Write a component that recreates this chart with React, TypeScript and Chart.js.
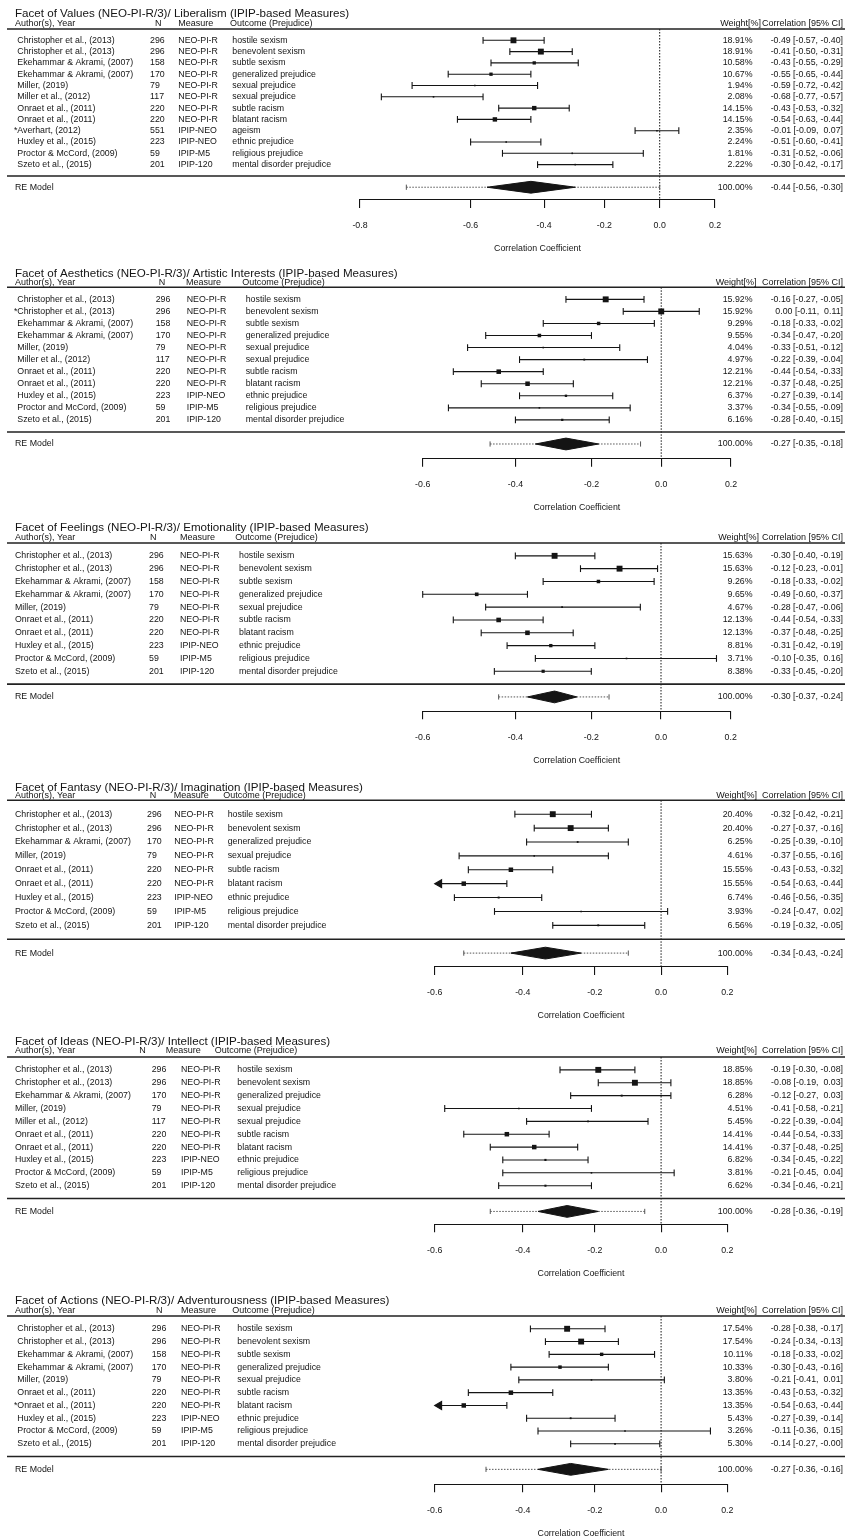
import React, { useEffect, useRef } from "react";
import { Chart, registerables } from "chart.js";

Chart.register(...registerables);

const FONT = '"Liberation Sans", Arial, Helvetica, sans-serif';
const INK = "#141414";

// ---------- tick labels ----------
const ticksWide = ["-0.8", "-0.6", "-0.4", "-0.2", "0.0", "0.2"];
const ticksNarrow = ["-0.6", "-0.4", "-0.2", "0.0", "0.2"];

// ---------- Panel 1 ----------
const p1Title = "Facet of Values (NEO-PI-R/3)/ Liberalism (IPIP-based Measures)";
const p1Authors = ["Christopher et al., (2013)", "Christopher et al., (2013)", "Ekehammar & Akrami, (2007)", "Ekehammar & Akrami, (2007)", "Miller, (2019)", "Miller et al., (2012)", "Onraet et al., (2011)", "Onraet et al., (2011)", "*Averhart, (2012)", "Huxley et al., (2015)", "Proctor & McCord, (2009)", "Szeto et al., (2015)"];
const p1N = [296, 296, 158, 170, 79, 117, 220, 220, 551, 223, 59, 201];
const p1Measure = ["NEO-PI-R", "NEO-PI-R", "NEO-PI-R", "NEO-PI-R", "NEO-PI-R", "NEO-PI-R", "NEO-PI-R", "NEO-PI-R", "IPIP-NEO", "IPIP-NEO", "IPIP-M5", "IPIP-120"];
const p1Outcome = ["hostile sexism", "benevolent sexism", "subtle sexism", "generalized prejudice", "sexual prejudice", "sexual prejudice", "subtle racism", "blatant racism", "ageism", "ethnic prejudice", "religious prejudice", "mental disorder prejudice"];
const p1Weight = [18.91, 18.91, 10.58, 10.67, 1.94, 2.08, 14.15, 14.15, 2.35, 2.24, 1.81, 2.22];
const p1Est = [-0.49, -0.41, -0.43, -0.55, -0.59, -0.68, -0.43, -0.54, -0.01, -0.51, -0.31, -0.30];
const p1Lower = [-0.57, -0.50, -0.55, -0.65, -0.72, -0.77, -0.53, -0.63, -0.09, -0.60, -0.52, -0.42];
const p1Upper = [-0.40, -0.31, -0.29, -0.44, -0.42, -0.57, -0.32, -0.44, 0.07, -0.41, -0.06, -0.17];
const p1Summary = [-0.44, -0.56, -0.30];
const p1Pred = [-0.73, 0.0];

// ---------- Panel 2 ----------
const p2Title = "Facet of Aesthetics (NEO-PI-R/3)/ Artistic Interests (IPIP-based Measures)";
const p2Authors = ["Christopher et al., (2013)", "*Christopher et al., (2013)", "Ekehammar & Akrami, (2007)", "Ekehammar & Akrami, (2007)", "Miller, (2019)", "Miller et al., (2012)", "Onraet et al., (2011)", "Onraet et al., (2011)", "Huxley et al., (2015)", "Proctor and McCord, (2009)", "Szeto et al., (2015)"];
const p2N = [296, 296, 158, 170, 79, 117, 220, 220, 223, 59, 201];
const p2Measure = ["NEO-PI-R", "NEO-PI-R", "NEO-PI-R", "NEO-PI-R", "NEO-PI-R", "NEO-PI-R", "NEO-PI-R", "NEO-PI-R", "IPIP-NEO", "IPIP-M5", "IPIP-120"];
const p2Outcome = ["hostile sexism", "benevolent sexism", "subtle sexism", "generalized prejudice", "sexual prejudice", "sexual prejudice", "subtle racism", "blatant racism", "ethnic prejudice", "religious prejudice", "mental disorder prejudice"];
const p2Weight = [15.92, 15.92, 9.29, 9.55, 4.04, 4.97, 12.21, 12.21, 6.37, 3.37, 6.16];
const p2Est = [-0.16, 0.0, -0.18, -0.34, -0.33, -0.22, -0.44, -0.37, -0.27, -0.34, -0.28];
const p2Lower = [-0.27, -0.11, -0.33, -0.47, -0.51, -0.39, -0.54, -0.48, -0.39, -0.55, -0.40];
const p2Upper = [-0.05, 0.11, -0.02, -0.20, -0.12, -0.04, -0.33, -0.25, -0.14, -0.09, -0.15];
const p2Summary = [-0.27, -0.35, -0.18];
const p2Pred = [-0.46, -0.06];

// ---------- Panel 3 ----------
const p3Title = "Facet of Feelings (NEO-PI-R/3)/ Emotionality (IPIP-based Measures)";
const p3Authors = ["Christopher et al., (2013)", "Christopher et al., (2013)", "Ekehammar & Akrami, (2007)", "Ekehammar & Akrami, (2007)", "Miller, (2019)", "Onraet et al., (2011)", "Onraet et al., (2011)", "Huxley et al., (2015)", "Proctor & McCord, (2009)", "Szeto et al., (2015)"];
const p3N = [296, 296, 158, 170, 79, 220, 220, 223, 59, 201];
const p3Measure = ["NEO-PI-R", "NEO-PI-R", "NEO-PI-R", "NEO-PI-R", "NEO-PI-R", "NEO-PI-R", "NEO-PI-R", "IPIP-NEO", "IPIP-M5", "IPIP-120"];
const p3Outcome = ["hostile sexism", "benevolent sexism", "subtle sexism", "generalized prejudice", "sexual prejudice", "subtle racism", "blatant racism", "ethnic prejudice", "religious prejudice", "mental disorder prejudice"];
const p3Weight = [15.63, 15.63, 9.26, 9.65, 4.67, 12.13, 12.13, 8.81, 3.71, 8.38];
const p3Est = [-0.30, -0.12, -0.18, -0.49, -0.28, -0.44, -0.37, -0.31, -0.10, -0.33];
const p3Lower = [-0.40, -0.23, -0.33, -0.60, -0.47, -0.54, -0.48, -0.42, -0.35, -0.45];
const p3Upper = [-0.19, -0.01, -0.02, -0.37, -0.06, -0.33, -0.25, -0.19, 0.16, -0.20];
const p3Summary = [-0.30, -0.37, -0.24];
const p3Pred = [-0.44, -0.15];

// ---------- Panel 4 ----------
const p4Title = "Facet of Fantasy (NEO-PI-R/3)/ Imagination (IPIP-based Measures)";
const p4Authors = ["Christopher et al., (2013)", "Christopher et al., (2013)", "Ekehammar & Akrami, (2007)", "Miller, (2019)", "Onraet et al., (2011)", "Onraet et al., (2011)", "Huxley et al., (2015)", "Proctor & McCord, (2009)", "Szeto et al., (2015)"];
const p4N = [296, 296, 170, 79, 220, 220, 223, 59, 201];
const p4Measure = ["NEO-PI-R", "NEO-PI-R", "NEO-PI-R", "NEO-PI-R", "NEO-PI-R", "NEO-PI-R", "IPIP-NEO", "IPIP-M5", "IPIP-120"];
const p4Outcome = ["hostile sexism", "benevolent sexism", "generalized prejudice", "sexual prejudice", "subtle racism", "blatant racism", "ethnic prejudice", "religious prejudice", "mental disorder prejudice"];
const p4Weight = [20.40, 20.40, 6.25, 4.61, 15.55, 15.55, 6.74, 3.93, 6.56];
const p4Est = [-0.32, -0.27, -0.25, -0.37, -0.43, -0.54, -0.46, -0.24, -0.19];
const p4Lower = [-0.42, -0.37, -0.39, -0.55, -0.53, -0.63, -0.56, -0.47, -0.32];
const p4Upper = [-0.21, -0.16, -0.10, -0.16, -0.32, -0.44, -0.35, 0.02, -0.05];
const p4Summary = [-0.34, -0.43, -0.24];
const p4Pred = [-0.54, -0.10];

// ---------- Panel 5 ----------
const p5Title = "Facet of Ideas (NEO-PI-R/3)/ Intellect (IPIP-based Measures)";
const p5Authors = ["Christopher et al., (2013)", "Christopher et al., (2013)", "Ekehammar & Akrami, (2007)", "Miller, (2019)", "Miller et al., (2012)", "Onraet et al., (2011)", "Onraet et al., (2011)", "Huxley et al., (2015)", "Proctor & McCord, (2009)", "Szeto et al., (2015)"];
const p5N = [296, 296, 170, 79, 117, 220, 220, 223, 59, 201];
const p5Measure = ["NEO-PI-R", "NEO-PI-R", "NEO-PI-R", "NEO-PI-R", "NEO-PI-R", "NEO-PI-R", "NEO-PI-R", "IPIP-NEO", "IPIP-M5", "IPIP-120"];
const p5Outcome = ["hostile sexism", "benevolent sexism", "generalized prejudice", "sexual prejudice", "sexual prejudice", "subtle racism", "blatant racism", "ethnic prejudice", "religious prejudice", "mental disorder prejudice"];
const p5Weight = [18.85, 18.85, 6.28, 4.51, 5.45, 14.41, 14.41, 6.82, 3.81, 6.62];
const p5Est = [-0.19, -0.08, -0.12, -0.41, -0.22, -0.44, -0.37, -0.34, -0.21, -0.34];
const p5Lower = [-0.30, -0.19, -0.27, -0.58, -0.39, -0.54, -0.48, -0.45, -0.45, -0.46];
const p5Upper = [-0.08, 0.03, 0.03, -0.21, -0.04, -0.33, -0.25, -0.22, 0.04, -0.21];
const p5Summary = [-0.28, -0.36, -0.19];
const p5Pred = [-0.48, -0.05];

// ---------- Panel 6 ----------
const p6Title = "Facet of Actions (NEO-PI-R/3)/ Adventurousness (IPIP-based Measures)";
const p6Authors = ["Christopher et al., (2013)", "Christopher et al., (2013)", "Ekehammar & Akrami, (2007)", "Ekehammar & Akrami, (2007)", "Miller, (2019)", "Onraet et al., (2011)", "*Onraet et al., (2011)", "Huxley et al., (2015)", "Proctor & McCord, (2009)", "Szeto et al., (2015)"];
const p6N = [296, 296, 158, 170, 79, 220, 220, 223, 59, 201];
const p6Measure = ["NEO-PI-R", "NEO-PI-R", "NEO-PI-R", "NEO-PI-R", "NEO-PI-R", "NEO-PI-R", "NEO-PI-R", "IPIP-NEO", "IPIP-M5", "IPIP-120"];
const p6Outcome = ["hostile sexism", "benevolent sexism", "subtle sexism", "generalized prejudice", "sexual prejudice", "subtle racism", "blatant racism", "ethnic prejudice", "religious prejudice", "mental disorder prejudice"];
const p6Weight = [17.54, 17.54, 10.11, 10.33, 3.80, 13.35, 13.35, 5.43, 3.26, 5.30];
const p6Est = [-0.28, -0.24, -0.18, -0.30, -0.21, -0.43, -0.54, -0.27, -0.11, -0.14];
const p6Lower = [-0.38, -0.34, -0.33, -0.43, -0.41, -0.53, -0.63, -0.39, -0.36, -0.27];
const p6Upper = [-0.17, -0.13, -0.02, -0.16, 0.01, -0.32, -0.44, -0.14, 0.15, -0.004];
const p6Summary = [-0.27, -0.36, -0.16];
const p6Pred = [-0.49, 0.0];

type PanelData = {
  title: string; authors: string[]; n: number[]; measure: string[]; outcome: string[];
  weight: number[]; est: number[]; lower: number[]; upper: number[];
  summary: number[]; pred: number[]; ticks: string[];
};

const PANELS: PanelData[] = [
  { title: p1Title, authors: p1Authors, n: p1N, measure: p1Measure, outcome: p1Outcome, weight: p1Weight, est: p1Est, lower: p1Lower, upper: p1Upper, summary: p1Summary, pred: p1Pred, ticks: ticksWide },
  { title: p2Title, authors: p2Authors, n: p2N, measure: p2Measure, outcome: p2Outcome, weight: p2Weight, est: p2Est, lower: p2Lower, upper: p2Upper, summary: p2Summary, pred: p2Pred, ticks: ticksNarrow },
  { title: p3Title, authors: p3Authors, n: p3N, measure: p3Measure, outcome: p3Outcome, weight: p3Weight, est: p3Est, lower: p3Lower, upper: p3Upper, summary: p3Summary, pred: p3Pred, ticks: ticksNarrow },
  { title: p4Title, authors: p4Authors, n: p4N, measure: p4Measure, outcome: p4Outcome, weight: p4Weight, est: p4Est, lower: p4Lower, upper: p4Upper, summary: p4Summary, pred: p4Pred, ticks: ticksNarrow },
  { title: p5Title, authors: p5Authors, n: p5N, measure: p5Measure, outcome: p5Outcome, weight: p5Weight, est: p5Est, lower: p5Lower, upper: p5Upper, summary: p5Summary, pred: p5Pred, ticks: ticksNarrow },
  { title: p6Title, authors: p6Authors, n: p6N, measure: p6Measure, outcome: p6Outcome, weight: p6Weight, est: p6Est, lower: p6Lower, upper: p6Upper, summary: p6Summary, pred: p6Pred, ticks: ticksNarrow },
];

// ---------- layout (positions only) ----------
type Layout = {
  top: number; axis: number; yMin: number; padL: number; padR: number;
  titleDy: number; headDy: number;
  authorX: number; nX: number; measX: number; outX: number;
  hNX: number; hMeasX: number; hOutX: number; wHeadX: number;
};

const LAYOUTS: Layout[] = [
  { top: 29, axis: 200, yMin: -2.13, padL: 360, padR: 130, titleDy: -14.8, headDy: -5, authorX: 17.3, nX: 150, measX: 178.3, outX: 232.3, hNX: 155, hMeasX: 178.3, hOutX: 230, wHeadX: 761 },
  { top: 287.3, axis: 458.7, yMin: -2.22, padL: 422.7, padR: 114, titleDy: -13.5, headDy: -5, authorX: 17.3, nX: 155.7, measX: 186.7, outX: 245.7, hNX: 158.7, hMeasX: 186, hOutX: 242.3, wHeadX: 756.5 },
  { top: 543, axis: 711.3, yMin: -2.12, padL: 422.7, padR: 114.3, titleDy: -15.5, headDy: -5.7, authorX: 15, nX: 149, measX: 180, outX: 239, hNX: 150, hMeasX: 180, hOutX: 235.3, wHeadX: 759 },
  { top: 800.3, axis: 967, yMin: -2.0, padL: 434.7, padR: 117.7, titleDy: -12.2, headDy: -5.2, authorX: 15, nX: 147, measX: 174.3, outX: 227.7, hNX: 149.7, hMeasX: 173.7, hOutX: 223.3, wHeadX: 757 },
  { top: 1057, axis: 1224.3, yMin: -2.0, padL: 434.7, padR: 117.7, titleDy: -15, headDy: -6, authorX: 15, nX: 151.7, measX: 181, outX: 237.3, hNX: 139.3, hMeasX: 165.7, hOutX: 214.7, wHeadX: 757 },
  { top: 1316, axis: 1484.3, yMin: -2.17, padL: 434.7, padR: 117.7, titleDy: -15, headDy: -5.7, authorX: 17.3, nX: 151.7, measX: 181, outX: 237.3, hNX: 156, hMeasX: 181, hOutX: 232.3, wHeadX: 757 },
];

const AXIS_H = 54.3;

function geom(L: Layout) {
  const canvasTop = Math.floor(L.top - 28);
  const padTop = L.top - canvasTop;
  const h = Math.ceil(padTop + (L.axis - L.top) + AXIS_H);
  const padBottom = h - padTop - (L.axis - L.top) - AXIS_H;
  return { canvasTop, padTop, padBottom, h };
}

function fmt(v: number) {
  const s = v.toFixed(2);
  return s.length < 5 ? " " + s : s;
}
function ciText(e: number, lo: number, hi: number) {
  return `${fmt(e)} [${fmt(lo)}, ${fmt(hi)}]`;
}

function makeChart(canvas: HTMLCanvasElement, d: PanelData, L: Layout) {
  const g = geom(L);
  const k = d.authors.length;
  const yMax = k + 1;
  const atanh = Math.atanh;
  const tickVals = d.ticks.map((t) => atanh(parseFloat(t)));
  const xMin = tickVals[0];
  const xMax = tickVals[tickVals.length - 1];
  const pxPerX = (845 - L.padL - L.padR) / (xMax - xMin);
  const rowPx = (L.axis - L.top) / (yMax - L.yMin);
  const rowY = (i: number) => k - i;
  const maxW = Math.max(...d.weight);
  const datasets: any[] = [];

  // summary diamond
  const dh = 5.9 / rowPx;
  const [sEst, sLo, sHi] = d.summary;
  datasets.push({
    data: [
      { x: atanh(sLo), y: -1 }, { x: atanh(sEst), y: -1 + dh }, { x: atanh(sHi), y: -1 },
      { x: atanh(sEst), y: -1 - dh }, { x: atanh(sLo), y: -1 },
    ],
    showLine: true, fill: "shape", borderColor: INK, backgroundColor: INK, borderWidth: 1,
    pointRadius: 0, tension: 0, clip: false,
  });
  // prediction interval
  datasets.push({
    data: [{ x: atanh(d.pred[0]), y: -1 }, { x: atanh(d.pred[1]), y: -1 }],
    showLine: true, borderColor: "#555555", borderWidth: 1, borderDash: [1.5, 1.5],
    pointStyle: "line", pointRotation: 90, pointRadius: 2.6, pointBorderColor: "#555555",
    pointBorderWidth: 1, pointBackgroundColor: "#555555", clip: false,
  });
  // point estimates
  datasets.push({
    data: d.est.map((e, i) => ({ x: atanh(e), y: rowY(i) })),
    showLine: false, pointStyle: "rect",
    pointRadius: d.weight.map((w) => Math.max(1.6, (5.9 * w) / maxW) / Math.SQRT2),
    pointBackgroundColor: INK, pointBorderWidth: 0, clip: false,
  });
  // confidence intervals
  const lim = parseFloat(d.ticks[0]);
  d.est.forEach((_e, i) => {
    const clipped = d.lower[i] < lim - 1e-6;
    const arrowR = 4.6;
    const lo = clipped ? xMin + arrowR / pxPerX : atanh(d.lower[i]);
    datasets.push({
      data: [{ x: lo, y: rowY(i) }, { x: atanh(d.upper[i]), y: rowY(i) }],
      showLine: true, borderColor: INK, borderWidth: 1.1,
      pointStyle: [clipped ? "triangle" : "line", "line"],
      pointRotation: [clipped ? -90 : 90, 90],
      pointRadius: [clipped ? arrowR : 3.4, 3.4],
      pointBackgroundColor: INK, pointBorderColor: INK, pointBorderWidth: 1.1, clip: false,
    });
  });
  // vertical reference line at 0
  datasets.push({
    data: [{ x: 0, y: yMax }, { x: 0, y: L.yMin }],
    showLine: true, borderColor: INK, borderWidth: 1, borderDash: [1.5, 1.5],
    pointRadius: 0, clip: false,
  });

  const textPlugin = {
    id: "forestText",
    afterDraw(chart: any) {
      const ctx: CanvasRenderingContext2D = chart.ctx;
      const ys = chart.scales.y;
      const top = ys.getPixelForValue(yMax);
      const bot = ys.getPixelForValue(0);
      const W = chart.width;
      ctx.save();
      ctx.strokeStyle = "#222222";
      ctx.lineWidth = 1.6;
      ctx.beginPath();
      ctx.moveTo(7, top); ctx.lineTo(W, top);
      ctx.moveTo(7, bot); ctx.lineTo(W, bot);
      ctx.stroke();

      ctx.fillStyle = INK;
      ctx.textBaseline = "middle";
      ctx.textAlign = "left";
      ctx.font = `11.6px ${FONT}`;
      ctx.fillText(d.title, 15, top + L.titleDy);

      const hy = top + L.headDy;
      ctx.font = `9px ${FONT}`;
      ctx.fillText("Author(s), Year", 15, hy);
      ctx.fillText("N", L.hNX, hy);
      ctx.fillText("Measure", L.hMeasX, hy);
      ctx.fillText("Outcome (Prejudice)", L.hOutX, hy);
      ctx.textAlign = "right";
      ctx.fillText("Weight[%]", L.wHeadX, hy);
      ctx.fillText("Correlation [95% CI]", 843, hy);

      ctx.font = `8.8px ${FONT}`;
      d.authors.forEach((a, i) => {
        const y = ys.getPixelForValue(rowY(i));
        let name = a;
        if (a.startsWith("*")) {
          ctx.textAlign = "right";
          ctx.fillText("*", L.authorX, y);
          name = a.slice(1);
        }
        ctx.textAlign = "left";
        ctx.fillText(name, L.authorX, y);
        ctx.fillText(String(d.n[i]), L.nX, y);
        ctx.fillText(d.measure[i], L.measX, y);
        ctx.fillText(d.outcome[i], L.outX, y);
        ctx.textAlign = "right";
        ctx.fillText(d.weight[i].toFixed(2) + "%", 752.5, y);
        ctx.fillText(ciText(d.est[i], d.lower[i], d.upper[i]), 843, y);
      });
      const ry = ys.getPixelForValue(-1);
      ctx.textAlign = "left";
      ctx.fillText("RE Model", 15, ry);
      ctx.textAlign = "right";
      ctx.fillText((100).toFixed(2) + "%", 752.5, ry);
      ctx.fillText(ciText(sEst, sLo, sHi), 843, ry);
      ctx.restore();
    },
  };

  return new Chart(canvas, {
    type: "scatter",
    data: { datasets },
    options: {
      responsive: false,
      animation: false,
      devicePixelRatio: 1,
      events: [],
      layout: { padding: { top: g.padTop, bottom: g.padBottom, left: L.padL, right: L.padR } },
      plugins: { legend: { display: false }, tooltip: { enabled: false }, title: { display: false } },
      scales: {
        x: {
          type: "linear",
          position: "bottom",
          min: xMin,
          max: xMax,
          afterBuildTicks: (s: any) => {
            s.ticks = tickVals.map((v) => ({ value: v }));
          },
          afterFit: (s: any) => {
            s.height = AXIS_H;
          },
          ticks: {
            autoSkip: false, maxRotation: 0, minRotation: 0, padding: 12.5, color: INK,
            font: { family: FONT, size: 8.8 },
            callback: (_v: any, i: number) => d.ticks[i],
          },
          grid: { drawOnChartArea: false, drawTicks: true, tickLength: 8, color: INK, lineWidth: 1.1 },
          border: { display: true, color: INK, width: 1.1 },
          title: { display: true, text: "Correlation Coefficient", color: INK, font: { family: FONT, size: 8.8 }, padding: 0 },
        },
        y: { type: "linear", display: false, min: L.yMin, max: yMax },
      },
    } as any,
    plugins: [textPlugin],
  });
}

export default function App() {
  const refs = useRef<(HTMLCanvasElement | null)[]>([]);
  useEffect(() => {
    const charts = PANELS.map((p, i) => makeChart(refs.current[i] as HTMLCanvasElement, p, LAYOUTS[i]));
    return () => charts.forEach((c) => c.destroy());
  }, []);
  return (
    <div style={{ position: "absolute", left: 0, top: 0, width: 845, height: 1537, overflow: "hidden", background: "#fff" }}>
      {LAYOUTS.map((L, i) => {
        const g = geom(L);
        return (
          <canvas
            key={i}
            ref={(el) => { refs.current[i] = el; }}
            width={845}
            height={g.h}
            style={{ position: "absolute", left: 0, top: g.canvasTop, width: 845, height: g.h, display: "block" }}
          />
        );
      })}
    </div>
  );
}
